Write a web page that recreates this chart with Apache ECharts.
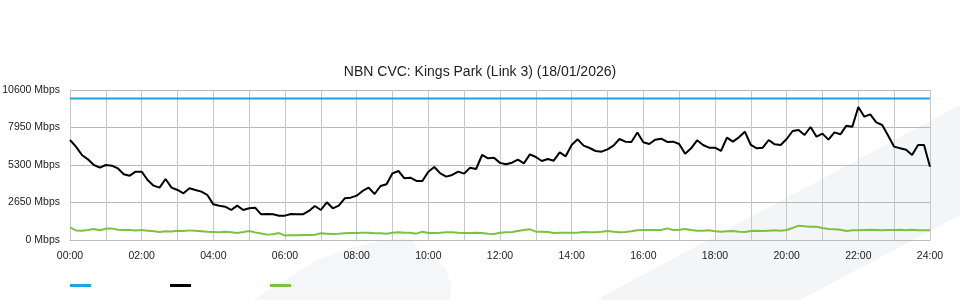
<!DOCTYPE html>
<html><head><meta charset="utf-8">
<script src="https://cdn.jsdelivr.net/npm/echarts@6/dist/echarts.min.js"></script>
<style>html,body{margin:0;padding:0;background:#fff}#c{width:960px;height:300px}</style>
</head><body><div id="c"></div>
<script>
const titleText = 'NBN CVC: Kings Park (Link 3) (18/01/2026)';
const seriesNames = ['Capacity', 'Download', 'Upload'];
const yTicks = [0, 2650, 5300, 7950, 10600];
// time stamps every 10 minutes, 00:00 .. 24:00
const times = [];
for (let m = 0; m <= 1440; m += 10) {
  times.push(String(Math.floor(m / 60)).padStart(2, '0') + ':' + String(m % 60).padStart(2, '0'));
}
const capacity = 10000;
const download = [
  7067,6596,6007,5701,5300,5112,5300,5253,5065,4641,
  4546,4829,4829,4240,3840,3699,4311,3699,3534,3298,
  3651,3534,3416,3180,2520,2426,2356,2120,2426,2120,
  2238,2285,1814,1837,1814,1720,1720,1837,1814,1814,
  2050,2403,2120,2662,2238,2426,2945,2992,3133,3463,
  3699,3251,3817,3934,4711,4876,4358,4405,4170,4170,
  4829,5159,4711,4476,4594,4829,4688,5112,5018,6007,
  5771,5818,5450,5347,5465,5677,5418,6054,5866,5583,
  5724,5606,6195,5913,6714,7114,6666,6502,6290,6242,
  6407,6666,7138,6949,6926,7600,6902,6784,7091,7161,
  6926,6949,6784,6101,6478,7044,6714,6525,6525,6290,
  7232,6949,7256,7656,6714,6478,6525,7067,6761,6714,
  7138,7703,7774,7420,7986,7302,7515,7091,7609,7468,
  8080,8009,9400,8716,8881,8316,8127,7373,6596,6478,
  6384,6007,6714,6714,5182
];
const upload = [
  895,680,660,700,780,690,800,820,730,700,
  700,670,700,660,615,560,620,600,650,640,
  680,650,620,590,570,545,580,540,500,560,
  636,540,460,380,410,490,310,340,340,350,
  360,370,471,447,424,447,471,495,495,518,
  518,471,471,447,518,542,518,518,447,589,
  495,495,518,542,542,518,495,495,518,495,
  447,424,518,542,565,636,707,754,589,589,
  565,495,518,518,518,518,565,542,550,589,
  636,589,542,565,612,683,707,707,707,707,
  820,707,730,777,707,660,660,683,612,589,
  612,636,589,565,636,660,636,660,683,660,
  707,848,1013,965,942,942,848,777,754,730,
  636,683,683,707,730,707,683,707,707,730,
  683,730,683,683,683
];

const chart = echarts.init(document.getElementById('c'), null, {renderer: 'canvas'});
const font = 'Liberation Sans, Arial, sans-serif';
chart.setOption({
  animation: false,
  backgroundColor: '#ffffff',
  textStyle: {fontFamily: font},
  graphic: [
    {type: 'polygon', z: -10, silent: true,
     shape: {points: [[253,300],[317,260],[350,248],[380,241],[403,238],[412,240],[418,248],[446,268],[451,285],[450,300]]},
     style: {fill: '#f5f6f8'}},
    {type: 'polygon', z: -10, silent: true,
     shape: {points: [[596,300],[960,105],[960,215],[800,300]]},
     style: {fill: '#f4f5f7'}}
  ],
  title: {
    text: titleText, left: 'center', top: 60,
    textStyle: {fontSize: 14, fontWeight: 'normal', color: '#222', fontFamily: font}
  },
  legend: {
    left: 65, top: 279, icon: 'rect', itemWidth: 21, itemHeight: 3, itemGap: 79,
    formatter: () => '', data: seriesNames, selectedMode: false
  },
  grid: {left: 70, right: 30, top: 90, bottom: 60, containLabel: false, outerBoundsMode: 'none'},
  xAxis: {
    type: 'category', data: times, boundaryGap: false,
    axisLine: {lineStyle: {color: '#bbbbbb'}},
    axisTick: {show: false},
    axisLabel: {interval: 11, color: '#222', fontSize: 10.5, margin: 11, showMaxLabel: true, fontFamily: font},
    splitLine: {show: true, interval: 5, lineStyle: {color: '#c8c8c8', width: 1}}
  },
  yAxis: {
    type: 'value', min: yTicks[0], max: yTicks[yTicks.length - 1], interval: yTicks[1] - yTicks[0],
    axisLine: {show: false}, axisTick: {show: false},
    axisLabel: {formatter: v => v + ' Mbps', color: '#222', fontSize: 10.5, margin: 10, fontFamily: font},
    splitLine: {lineStyle: {color: '#b8b8b8', width: 1}}
  },
  series: [
    {name: seriesNames[0], type: 'line', data: [[times[0], capacity], [times[times.length - 1], capacity]],
     showSymbol: false, lineStyle: {color: '#1ea1e1', width: 2}, itemStyle: {color: '#1ea1e1'}},
    {name: seriesNames[1], type: 'line', data: download, showSymbol: false,
     lineStyle: {color: '#000000', width: 2}, itemStyle: {color: '#000000'}},
    {name: seriesNames[2], type: 'line', data: upload, showSymbol: false,
     lineStyle: {color: '#7cc242', width: 2}, itemStyle: {color: '#7cc242'}}
  ]
});
</script></body></html>
